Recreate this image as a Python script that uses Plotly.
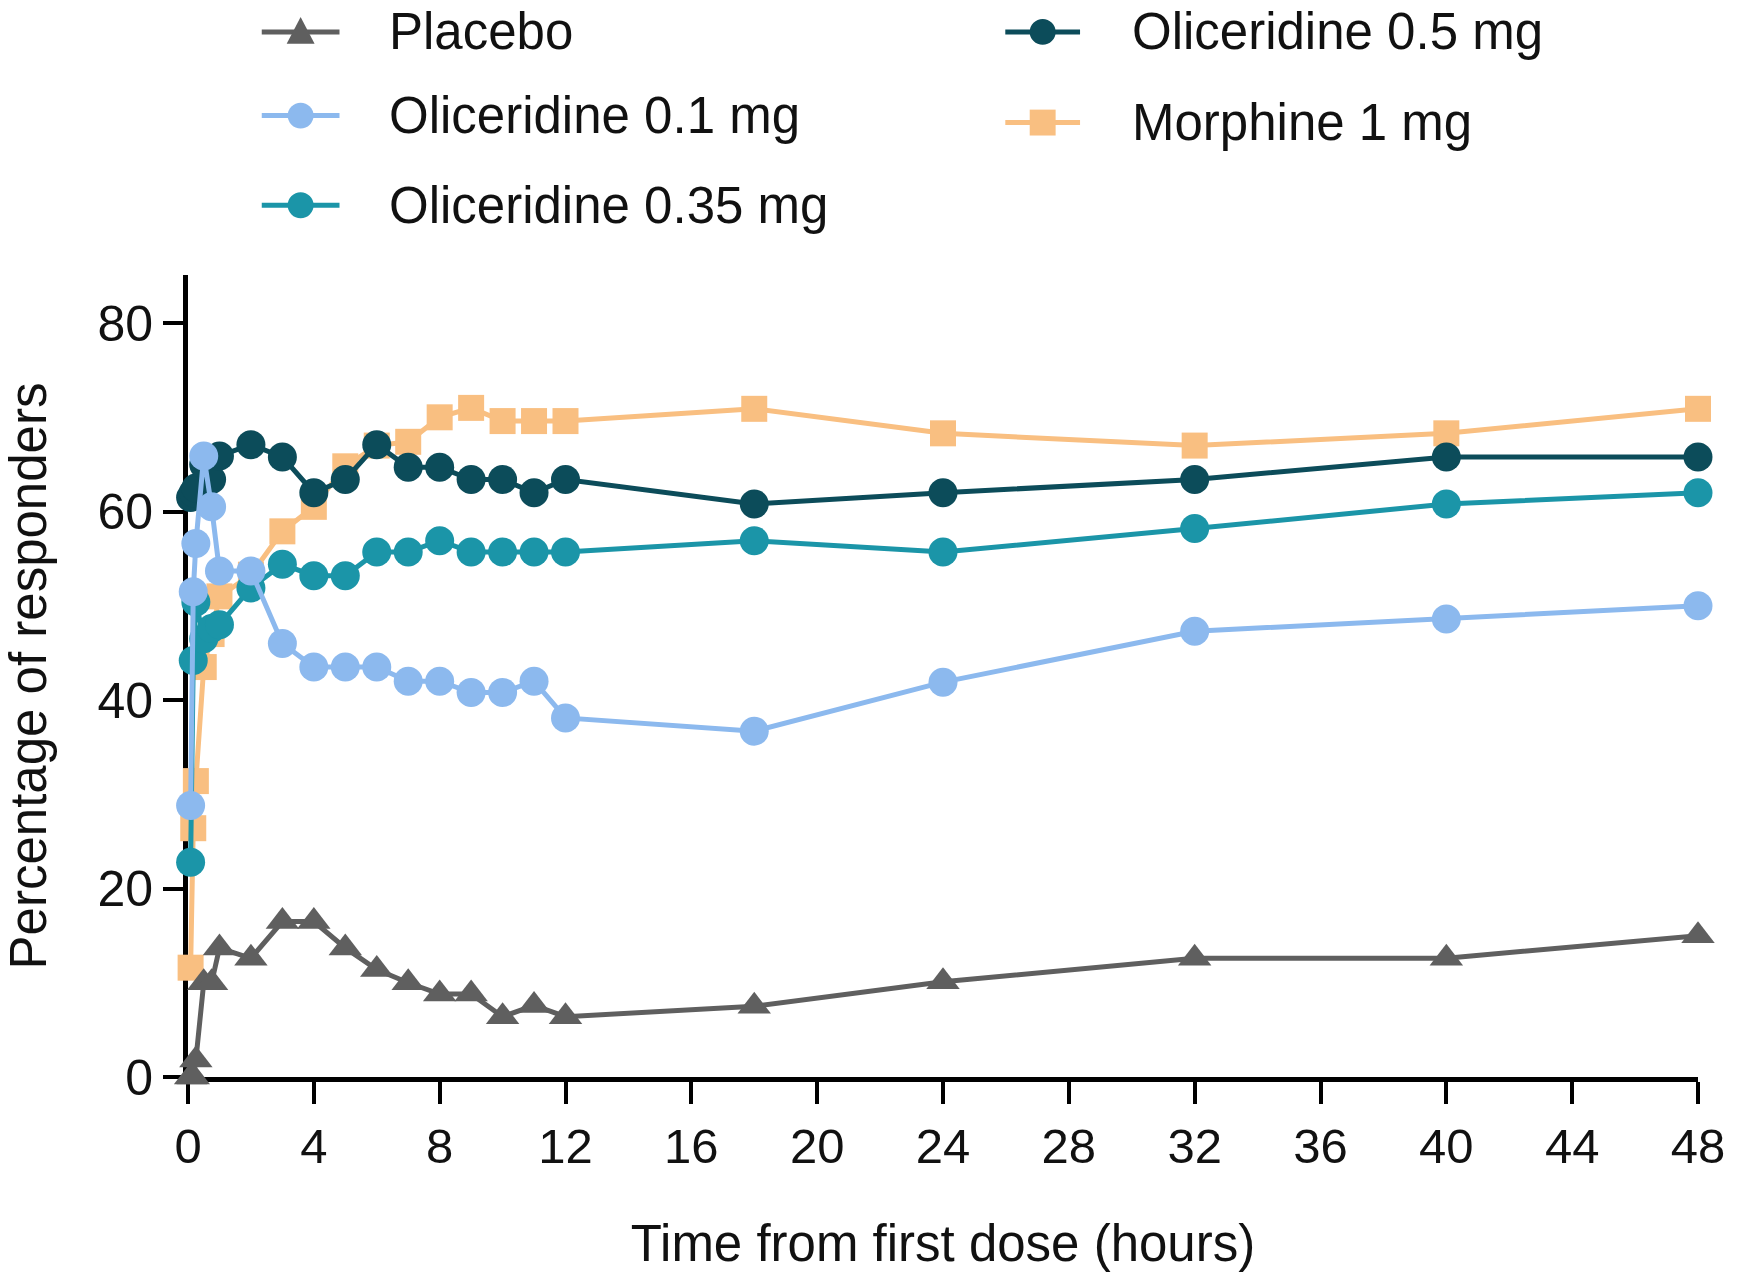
import plotly.graph_objects as go

# Time points (hours from first dose)
hours = [0.083, 0.167, 0.25, 0.5, 0.75, 1, 2, 3, 4, 5, 6, 7, 8, 9, 10, 11, 12, 18, 24, 32, 40, 48]

# Percentage of responders per treatment arm
placebo = [0, 0, 1.8, 10.0, 10.0, 13.7, 12.6, 16.5, 16.5, 13.7, 11.4, 10.0, 8.8, 8.8, 6.4, 7.6, 6.4, 7.5, 10.1, 12.6, 12.6, 15.0]
olic_01 = [28.8, 51.5, 56.6, 65.9, 60.5, 53.7, 53.7, 46.0, 43.5, 43.5, 43.5, 42.0, 42.0, 40.8, 40.8, 42.0, 38.1, 36.7, 41.9, 47.3, 48.6, 50.0]
olic_035 = [22.8, 44.2, 50.4, 46.5, 47.6, 48.0, 51.9, 54.4, 53.2, 53.2, 55.7, 55.7, 56.9, 55.7, 55.7, 55.7, 55.7, 56.9, 55.7, 58.2, 60.8, 62.0]
olic_05 = [61.5, 62.0, 62.5, 65.0, 63.4, 65.9, 67.1, 65.8, 62.0, 63.4, 67.1, 64.7, 64.7, 63.4, 63.4, 62.0, 63.4, 60.8, 62.0, 63.4, 65.8, 65.8]
morphine = [11.6, 26.4, 31.4, 43.5, 47.0, 51.0, 53.3, 57.9, 60.5, 64.8, 67.0, 67.4, 70.0, 71.0, 69.6, 69.6, 69.6, 70.9, 68.3, 67.0, 68.3, 70.9]

x_ticks = list(range(0, 49, 4))
y_ticks = [0, 20, 40, 60, 80]

GRAY = "#5f5f5f"
LIGHT = "#8cb9ee"
TEAL = "#1b95a8"
DARK = "#0c4c5a"
ORANGE = "#f9bf81"

FONT = "Liberation Sans, Arial, sans-serif"

# series drawn bottom-to-top
series = [
    ("Morphine 1 mg", morphine, ORANGE, "square", 26),
    ("Placebo", placebo, GRAY, "triangle-up", 29),
    ("Oliceridine 0.5 mg", olic_05, DARK, "circle", 29),
    ("Oliceridine 0.35 mg", olic_035, TEAL, "circle", 29),
    ("Oliceridine 0.1 mg", olic_01, LIGHT, "circle", 29),
]

fig = go.Figure()
for name, vals, col, sym, size in series:
    fig.add_trace(go.Scatter(
        x=hours, y=vals, name=name, mode="lines+markers",
        line=dict(color=col, width=5),
        marker=dict(symbol=sym, size=size, color=col, line=dict(width=0)),
        cliponaxis=False, showlegend=False,
    ))

W, H = 1737, 1275
L, R, T, B = 188, 34, 275, 195
PW, PH = W - L - R, H - T - B


def px(x):
    return (x - L) / PW


def py(y):
    return (H - B - y) / PH


# Legend keys: line segment, marker and label
legend_items = [
    ("Placebo", GRAY, "triangle", 262, 340, 388, 31),
    ("Oliceridine 0.1 mg", LIGHT, "circle", 262, 340, 388, 115),
    ("Oliceridine 0.35 mg", TEAL, "circle", 262, 340, 388, 205),
    ("Oliceridine 0.5 mg", DARK, "circle", 1008, 1083, 1133, 31),
    ("Morphine 1 mg", ORANGE, "square", 1008, 1083, 1133, 122),
]
shapes = []
annotations = []
for label, col, kind, x0, x1, tx, yc in legend_items:
    shapes.append(dict(type="line", xref="paper", yref="paper",
                       x0=px(x0), x1=px(x1), y0=py(yc), y1=py(yc),
                       line=dict(color=col, width=5)))
    cx = (x0 + x1) / 2
    r = 13
    if kind == "circle":
        shapes.append(dict(type="circle", xref="paper", yref="paper",
                           x0=px(cx - r), x1=px(cx + r), y0=py(yc + r), y1=py(yc - r),
                           fillcolor=col, line=dict(width=0)))
    elif kind == "square":
        shapes.append(dict(type="rect", xref="paper", yref="paper",
                           x0=px(cx - r), x1=px(cx + r), y0=py(yc + r), y1=py(yc - r),
                           fillcolor=col, line=dict(width=0)))
    else:
        path = "M {} {} L {} {} L {} {} Z".format(
            px(cx - 14), py(yc + 12), px(cx + 14), py(yc + 12), px(cx), py(yc - 15))
        shapes.append(dict(type="path", xref="paper", yref="paper", path=path,
                           fillcolor=col, line=dict(width=0)))
    annotations.append(dict(text=label, xref="paper", yref="paper",
                            x=px(tx), y=py(yc), xanchor="left", yanchor="middle",
                            showarrow=False, font=dict(size=51, color="#111111", family=FONT)))

fig.update_layout(
    width=W, height=H,
    margin=dict(l=L, r=R, t=T, b=B),
    paper_bgcolor="white", plot_bgcolor="white",
    font=dict(family=FONT, size=48, color="#111111"),
    shapes=shapes, annotations=annotations,
    xaxis=dict(
        range=[0, 48], tickvals=x_ticks, ticktext=[str(v) for v in x_ticks],
        showgrid=False, zeroline=False,
        showline=True, linecolor="black", linewidth=5,
        ticks="outside", ticklen=22, tickwidth=3.5, tickcolor="black",
        tickfont=dict(size=49, family=FONT, color="#111111"),
        layer="below traces",
        title=dict(text="Time from first dose (hours)", standoff=55,
                   font=dict(size=51, family=FONT, color="#111111")),
    ),
    yaxis=dict(
        range=[0, 85.1], tickvals=y_ticks, ticktext=[str(v) for v in y_ticks],
        showgrid=False, zeroline=False,
        showline=True, linecolor="black", linewidth=5,
        ticks="outside", ticklen=20, tickwidth=3.5, tickcolor="black",
        ticklabelstandoff=0,
        tickfont=dict(size=50, family=FONT, color="#111111"),
        layer="below traces",
        title=dict(text="Percentage of responders", standoff=38,
                   font=dict(size=51, family=FONT, color="#111111")),
    ),
)

fig.write_html("out.html")
